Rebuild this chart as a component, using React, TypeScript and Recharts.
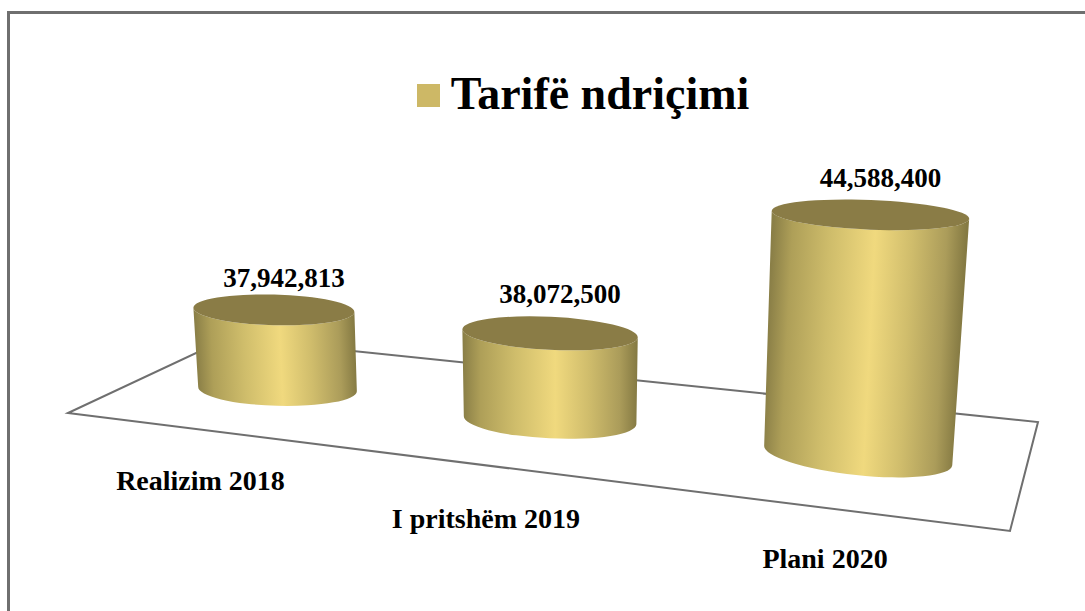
import { Bar, BarChart, Customized, LabelList, Legend, XAxis, YAxis } from "recharts";

// ── Data ─────────────────────────────────────────────────────────────

const CATEGORIES = ["Realizim 2018", "I pritshëm 2019", "Plani 2020"];
const VALUES = [37942813, 38072500, 44588400];
const SERIES_NAME = "Tarifë ndriçimi";
const VALUE_DOMAIN = [34000000, 46000000];

const chartData = CATEGORIES.map((name, i) => ({ name, value: VALUES[i] }));

// ── Layout / look ────────────────────────────────────────────────────

const WIDTH = 1085;
const HEIGHT = 611;
const MARGIN = { top: 150, right: 47, bottom: 168, left: 68 };
const PLOT_WIDTH = WIDTH - MARGIN.left - MARGIN.right;
const FONT = "'Liberation Serif', serif";
const LEGEND_COLOR = "#CDB866";
const LINE_COLOR = "#6f6f6f";

// floor corners: front left, front right, back right, back left
const FLOOR = [[68, 413], [1010, 531], [1038, 422], [228, 338]];
// the tilt of each cylinder's end ellipses, in degrees
const BASE_TILT = [1.5, 2.7, 6];
const TOP_TILT = [1.5, 2.7, 2.3];
// hand nudges for the text, the source placed these loosely
const VALUE_LABEL_DY = [7, 1, 2];
const TICK_NUDGE = [[0, 0], [-6, 1], [0, 0]];

// ── Perspective ──────────────────────────────────────────────────────

// unit square (u along the categories, v into the depth) -> floor quad
function makeFloorProjection() {
  const [[x0, y0], [x1, y1], [x2, y2], [x3, y3]] = FLOOR;
  const dx1 = x1 - x2, dx2 = x3 - x2, dx3 = x0 - x1 + x2 - x3;
  const dy1 = y1 - y2, dy2 = y3 - y2, dy3 = y0 - y1 + y2 - y3;
  const den = dx1 * dy2 - dx2 * dy1;
  const g = (dx3 * dy2 - dx2 * dy3) / den;
  const h = (dx1 * dy3 - dx3 * dy1) / den;
  const a = x1 - x0 + g * x1, b = x3 - x0 + h * x3;
  const d = y1 - y0 + g * y1, e = y3 - y0 + h * y3;
  return (u: number, v: number) => {
    const w = g * u + h * v + 1;
    return { x: (a * u + b * v + x0) / w, y: (d * u + e * v + y0) / w, scale: 1 / w };
  };
}

const floorAt = makeFloorProjection();
const toU = (plotX: number) => (plotX - MARGIN.left) / PLOT_WIDTH;

// project a bar from plot space into the 3D scene
function cylinderGeometry(x: number, width: number, height: number) {
  const base = floorAt(toU(x + width / 2), 0.47);
  const bx = base.x + 3;
  const h = height * base.scale;
  const lean = (bx - 553) / 6000;
  const rxBase = (width / 2) * Math.pow(base.scale, 1.43);
  const rxTop = rxBase * (1 + (0.045 * h) / 240);
  const ryBase = rxBase * 0.21;
  const ryTop = rxTop * (0.21 - (0.06 * h) / 240);
  return { bx, by: base.y, tx: bx + lean * h, ty: base.y - h, rxBase, rxTop, ryBase, ryTop };
}

// ── Series shape ─────────────────────────────────────────────────────

function Cylinder(props: any) {
  const { x, width, height, index } = props;
  const g = cylinderGeometry(x, width, height);
  const bt = (BASE_TILT[index] * Math.PI) / 180;
  const tt = (TOP_TILT[index] * Math.PI) / 180;

  const tl = [g.tx - g.rxTop * Math.cos(tt), g.ty - g.rxTop * Math.sin(tt)];
  const tr = [g.tx + g.rxTop * Math.cos(tt), g.ty + g.rxTop * Math.sin(tt)];
  const bl = [g.bx - g.rxBase * Math.cos(bt), g.by - g.rxBase * Math.sin(bt)];
  const br = [g.bx + g.rxBase * Math.cos(bt), g.by + g.rxBase * Math.sin(bt)];

  const side = [
    `M${tl[0]},${tl[1]}`,
    `L${bl[0]},${bl[1]}`,
    `A${g.rxBase},${g.ryBase} ${BASE_TILT[index]} 0 0 ${br[0]},${br[1]}`,
    `L${tr[0]},${tr[1]}`,
    `A${g.rxTop},${g.ryTop} ${TOP_TILT[index]} 0 1 ${tl[0]},${tl[1]}`,
    "Z",
  ].join(" ");

  // shading runs square to the cylinder's lean
  const midL = [(tl[0] + bl[0]) / 2, (tl[1] + bl[1]) / 2];
  const midR = [(tr[0] + br[0]) / 2, (tr[1] + br[1]) / 2];
  const ax = g.tx - g.bx, ay = g.ty - g.by;
  const len = Math.hypot(ax, ay);
  const px = -ay / len, py = ax / len;
  const span = (midR[0] - midL[0]) * px + (midR[1] - midL[1]) * py;
  const id = `cyl-side-${index}`;

  return (
    <g>
      <defs>
        <linearGradient
          id={id}
          gradientUnits="userSpaceOnUse"
          x1={midL[0]}
          y1={midL[1]}
          x2={midL[0] + px * span}
          y2={midL[1] + py * span}
        >
          <stop offset="0" stopColor="#8a7f47" />
          <stop offset="0.1" stopColor="#ae9f58" />
          <stop offset="0.3" stopColor="#cfbd6b" />
          <stop offset="0.53" stopColor="#f0d97e" />
          <stop offset="0.72" stopColor="#d0bd6c" />
          <stop offset="0.9" stopColor="#ab9c5a" />
          <stop offset="1" stopColor="#857a43" />
        </linearGradient>
      </defs>
      <path d={side} fill={`url(#${id})`} />
      <ellipse
        cx={g.tx}
        cy={g.ty}
        rx={g.rxTop}
        ry={g.ryTop}
        fill="#8a7c46"
        transform={`rotate(${TOP_TILT[index]} ${g.tx} ${g.ty})`}
      />
    </g>
  );
}

function ValueLabel(props: any) {
  const { x, width, height, value, index } = props;
  const g = cylinderGeometry(x, width, height);
  return (
    <text
      x={g.tx + 10}
      y={g.ty - g.ryTop - 21 + VALUE_LABEL_DY[index]}
      textAnchor="middle"
      dominantBaseline="middle"
      fontFamily={FONT}
      fontWeight={700}
      fontSize={27}
      fill="#000"
    >
      {Number(value).toLocaleString("en-US")}
    </text>
  );
}

function CategoryTick(props: any) {
  const { x, payload, index } = props;
  const p = floorAt(toU(x), 0);
  const [dx, dy] = TICK_NUDGE[index];
  return (
    <text
      x={p.x + dx}
      y={p.y + 54 + dy}
      textAnchor="middle"
      dominantBaseline="middle"
      fontFamily={FONT}
      fontWeight={700}
      fontSize={28}
      fill="#000"
    >
      {payload.value}
    </text>
  );
}

function Floor() {
  return (
    <polygon
      points={FLOOR.map((p) => p.join(",")).join(" ")}
      fill="#fff"
      stroke={LINE_COLOR}
      strokeWidth={2}
    />
  );
}

function TitleLegend({ payload }: any) {
  return (
    <div style={{ display: "flex", alignItems: "center", justifyContent: "center" }}>
      {(payload || []).map((p: any) => (
        <div key={p.value} style={{ display: "flex", alignItems: "center" }}>
          <span style={{ width: 23, height: 23, background: LEGEND_COLOR, marginRight: 11, marginTop: 2 }} />
          <span style={{ fontFamily: FONT, fontWeight: 700, fontSize: 46, lineHeight: "50px", color: "#000" }}>
            {p.value}
          </span>
        </div>
      ))}
    </div>
  );
}

// ── Main Component ───────────────────────────────────────────────────

export default function App() {
  return (
    <div style={{ position: "absolute", left: 0, top: 0, width: WIDTH, height: HEIGHT, overflow: "hidden", background: "#fff" }}>
      {/* frame of the pasted chart, right and bottom run off the page */}
      <div
        style={{
          position: "absolute",
          left: 7,
          top: 11,
          width: WIDTH,
          height: HEIGHT,
          borderLeft: `3px solid ${LINE_COLOR}`,
          borderTop: `3px solid ${LINE_COLOR}`,
        }}
      />
      <div style={{ position: "absolute", left: 0, top: 0 }}>
        <BarChart width={WIDTH} height={HEIGHT} data={chartData} margin={MARGIN} barSize={170}>
          <Customized component={Floor} />
          <XAxis dataKey="name" height={40} axisLine={false} tickLine={false} tick={CategoryTick} interval={0} />
          <YAxis hide domain={VALUE_DOMAIN} />
          <Legend
            layout="horizontal"
            verticalAlign="middle"
            align="center"
            content={TitleLegend}
            wrapperStyle={{ top: 69, left: 583 - WIDTH / 2, width: WIDTH }}
          />
          <Bar dataKey="value" name={SERIES_NAME} fill={LEGEND_COLOR} shape={Cylinder} isAnimationActive={false}>
            <LabelList dataKey="value" content={ValueLabel} />
          </Bar>
        </BarChart>
      </div>
    </div>
  );
}
